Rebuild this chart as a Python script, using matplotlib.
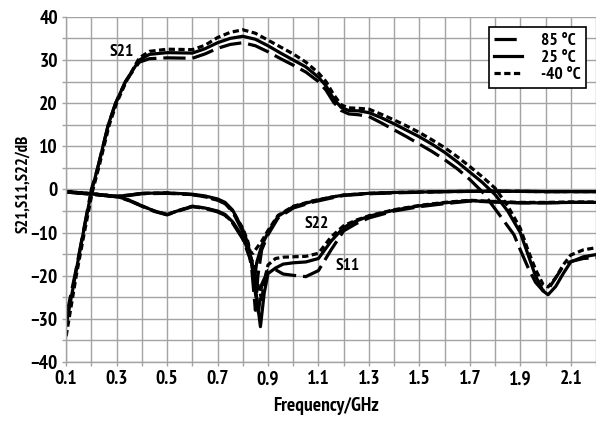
import matplotlib
matplotlib.use("Agg")
import matplotlib.pyplot as plt
from matplotlib import font_manager as fm
from matplotlib.ticker import MultipleLocator

# ---- font choice: prefer a condensed bold sans ----
names = {f.name for f in fm.fontManager.ttflist}
cands = ["PT Sans Narrow", "Fira Sans Extra Condensed", "Fira Sans Condensed", "Roboto Condensed",
         "Liberation Sans Narrow"]
FAM = next((c for c in cands if c in names), "DejaVu Sans")
plt.rcParams["font.family"] = [FAM, "DejaVu Sans"]
plt.rcParams["font.weight"] = "bold"
plt.rcParams["lines.scale_dashes"] = False

# ---- data ----
temps = ["85 °C", "25 °C", "-40 °C"]

s21_f_85 = [0.1, 0.136, 0.168, 0.2, 0.225, 0.246, 0.267, 0.296, 0.335, 0.39, 0.43, 0.5, 0.6, 0.65, 0.7, 0.75, 0.8,
            0.85, 0.9, 0.95, 1.0, 1.05, 1.1, 1.13, 1.16, 1.19, 1.22, 1.26, 1.3, 1.35, 1.4, 1.45, 1.5, 1.55, 1.6, 1.65,
            1.7, 1.75, 1.8, 1.85, 1.875, 1.9, 1.93, 1.96, 1.99, 2.01, 2.04, 2.07, 2.1, 2.15, 2.2]
s21_v_85 = [-29.5, -19.5, -9.8, 0, 5, 10, 15, 20, 25, 29.5, 30.3, 30.5, 30.4, 31.4, 32.7, 33.6, 34.0,
            33.3, 31.9, 30.3, 28.8, 27.2, 25.0, 23.0, 20.2, 18.3, 17.5, 17.3, 16.9, 15.4, 13.8, 12.2, 10.5, 8.8, 6.9, 4.8,
            2.3, -0.6, -4.5, -8.5, -10.5, -14.0, -18.0, -21.5, -23.5, -23.2, -20.5, -17.8, -16.7, -16.0, -15.8]

s21_f_25 = [0.1, 0.136, 0.168, 0.2, 0.225, 0.246, 0.267, 0.296, 0.335, 0.39, 0.43, 0.5, 0.6, 0.65, 0.7, 0.75, 0.8,
            0.85, 0.9, 0.95, 1.0, 1.05, 1.1, 1.13, 1.16, 1.19, 1.22, 1.26, 1.3, 1.35, 1.4, 1.45, 1.5, 1.55, 1.6, 1.65,
            1.7, 1.75, 1.8, 1.85, 1.9, 1.93, 1.96, 1.99, 2.01, 2.04, 2.07, 2.1, 2.15, 2.2]
s21_v_25 = [-31.5, -20, -10, -0.5, 5, 10, 15, 20, 25, 30, 31.3, 31.7, 31.6, 32.6, 34.0, 35.0, 35.5,
            34.8, 33.3, 31.6, 30.0, 28.4, 26.0, 24.0, 21.0, 19.0, 18.3, 18.2, 17.8, 16.6, 15.2, 13.7, 12.2, 10.5, 8.6, 6.4,
            4.0, 1.6, -1.2, -5.0, -10.0, -15.0, -20.0, -23.5, -24.4, -22.5, -19.5, -16.8, -15.6, -15.1]

s21_f_m40 = [0.1, 0.14, 0.172, 0.204, 0.229, 0.25, 0.271, 0.3, 0.338, 0.39, 0.43, 0.5, 0.6, 0.65, 0.7, 0.75, 0.8,
             0.85, 0.9, 0.95, 1.0, 1.05, 1.1, 1.13, 1.16, 1.19, 1.22, 1.26, 1.3, 1.35, 1.4, 1.45, 1.5, 1.55, 1.6, 1.65,
             1.7, 1.75, 1.8, 1.85, 1.9, 1.93, 1.96, 1.99, 2.01, 2.04, 2.07, 2.1, 2.15, 2.2]
s21_v_m40 = [-34.0, -20, -10, -0.5, 5, 10, 15, 20, 25, 30.5, 32.0, 32.5, 32.4, 33.4, 35.2, 36.4, 37.0,
             36.2, 34.6, 33.0, 31.4, 29.5, 27.0, 25.0, 22.0, 19.6, 18.9, 18.8, 18.6, 17.4, 16.1, 14.7, 13.2, 11.5, 9.7, 7.6,
             5.3, 2.9, 0.3, -3.8, -9.0, -14.0, -18.5, -22.0, -22.6, -20.5, -17.5, -15.2, -14.0, -13.5]

s22_f_85 = [0.1, 0.2, 0.3, 0.35, 0.4, 0.5, 0.6, 0.65, 0.7, 0.73, 0.76, 0.8, 0.82, 0.835, 0.85, 0.86, 0.875, 0.9,
            0.94, 1.0, 1.08, 1.15, 1.2, 1.3, 1.4, 1.6, 1.8, 2.0, 2.2]
s22_v_85 = [-0.6, -1.1, -1.7, -1.4, -1.0, -0.9, -1.2, -1.7, -2.5, -3.3, -5.2, -9.8, -13.5, -18.0, -28.0, -20.0, -14.0, -10.5,
            -6.6, -4.3, -2.9, -2.0, -1.4, -1.0, -0.8, -0.5, -0.4, -0.5, -0.5]

s22_f_25 = [0.1, 0.2, 0.3, 0.35, 0.4, 0.5, 0.6, 0.65, 0.7, 0.73, 0.76, 0.8, 0.82, 0.835, 0.845, 0.855, 0.875, 0.9,
            0.94, 1.0, 1.08, 1.15, 1.2, 1.3, 1.4, 1.6, 1.8, 2.0, 2.2]
s22_v_25 = [-0.5, -1.0, -1.6, -1.3, -0.9, -0.8, -1.1, -1.5, -2.2, -3.0, -4.8, -9.3, -12.5, -16.5, -21.5, -17.0, -13.0, -10.0,
            -6.2, -4.0, -2.7, -1.8, -1.3, -0.9, -0.7, -0.5, -0.4, -0.5, -0.5]

s22_f_m40 = [0.1, 0.2, 0.3, 0.35, 0.4, 0.5, 0.6, 0.65, 0.7, 0.73, 0.76, 0.8, 0.82, 0.83, 0.84, 0.85, 0.875, 0.9,
             0.94, 1.0, 1.08, 1.15, 1.2, 1.3, 1.4, 1.6, 1.8, 2.0, 2.2]
s22_v_m40 = [-0.5, -1.0, -1.6, -1.3, -0.9, -0.8, -1.2, -1.7, -2.4, -3.2, -5.0, -9.0, -12.0, -14.5, -14.8, -14.0, -12.0, -9.5,
             -6.0, -3.9, -2.6, -1.8, -1.3, -0.9, -0.7, -0.5, -0.4, -0.5, -0.5]

s11_f_85 = [0.1, 0.2, 0.3, 0.35, 0.4, 0.45, 0.5, 0.55, 0.6, 0.65, 0.7, 0.73, 0.76, 0.8, 0.835, 0.85, 0.862, 0.875, 0.9,
            0.93, 0.96, 1.0, 1.05, 1.1, 1.15, 1.2, 1.25, 1.3, 1.4, 1.5, 1.6, 1.7, 1.8, 1.9, 2.0, 2.1, 2.2]
s11_v_85 = [-0.6, -1.1, -1.7, -2.6, -3.9, -5.1, -5.9, -4.9, -4.0, -4.4, -5.2, -6.0, -7.8, -11.5, -17.0, -24.0, -28.5, -22.0, -18.8,
            -18.6, -19.6, -19.9, -20.2, -18.8, -14.0, -9.6, -7.9, -6.6, -5.0, -4.0, -3.3, -2.7, -2.9, -3.1, -3.1, -3.0, -3.0]

s11_f_25 = [0.1, 0.2, 0.3, 0.35, 0.4, 0.45, 0.5, 0.55, 0.6, 0.65, 0.7, 0.73, 0.76, 0.8, 0.835, 0.855, 0.87, 0.885, 0.9,
            0.93, 0.96, 1.0, 1.05, 1.1, 1.15, 1.2, 1.25, 1.3, 1.4, 1.5, 1.6, 1.7, 1.8, 1.9, 2.0, 2.1, 2.2]
s11_v_25 = [-0.5, -1.0, -1.6, -2.5, -3.8, -5.0, -5.8, -4.8, -3.9, -4.3, -5.0, -5.8, -7.5, -11.0, -16.3, -25.0, -31.8, -24.0, -19.5,
            -18.2, -17.3, -17.0, -16.8, -16.0, -12.0, -8.8, -7.3, -6.2, -4.8, -3.8, -3.1, -2.6, -2.9, -3.1, -3.1, -3.0, -3.0]

s11_f_m40 = [0.1, 0.2, 0.3, 0.35, 0.4, 0.45, 0.5, 0.55, 0.6, 0.65, 0.7, 0.73, 0.76, 0.8, 0.84, 0.86, 0.875, 0.89, 0.9,
             0.93, 0.96, 1.0, 1.05, 1.1, 1.15, 1.2, 1.25, 1.3, 1.4, 1.5, 1.6, 1.7, 1.8, 1.9, 2.0, 2.1, 2.2]
s11_v_m40 = [-0.5, -1.0, -1.6, -2.5, -3.8, -5.0, -5.8, -4.8, -3.9, -4.3, -5.1, -5.9, -7.7, -11.2, -17.0, -22.0, -25.5, -20.0, -17.5,
             -16.0, -15.7, -15.6, -15.5, -14.8, -11.0, -8.4, -7.1, -6.1, -4.7, -3.7, -3.0, -2.5, -2.8, -3.0, -3.0, -2.9, -2.9]

x_ticks = [0.1, 0.3, 0.5, 0.7, 0.9, 1.1, 1.3, 1.5, 1.7, 1.9, 2.1]
y_ticks = [-40, -30, -20, -10, 0, 10, 20, 30, 40]

# ---- styles ----
LW = 2.3
styles = {
    "85 °C": dict(linestyle=(0, (16, 5))),
    "25 °C": dict(linestyle="-"),
    "-40 °C": dict(linestyle=(0, (4.5, 2.5))),
}

fig = plt.figure(figsize=(5.96, 4.21), dpi=100)
ax = fig.add_axes([0.111, 0.140, 0.889, 0.820])

series = [
    ("85 °C", [(s21_f_85, s21_v_85), (s22_f_85, s22_v_85), (s11_f_85, s11_v_85)]),
    ("25 °C", [(s21_f_25, s21_v_25), (s22_f_25, s22_v_25), (s11_f_25, s11_v_25)]),
    ("-40 °C", [(s21_f_m40, s21_v_m40), (s22_f_m40, s22_v_m40), (s11_f_m40, s11_v_m40)]),
]
handles = []
for lab, curves in series:
    for i, (f, v) in enumerate(curves):
        ln, = ax.plot(f, v, color="black", lw=LW, solid_joinstyle="round",
                      dash_joinstyle="round", label=lab if i == 0 else None, **styles[lab])
        if i == 0:
            handles.append(ln)

ax.set_xlim(0.1, 2.2)
ax.set_ylim(-40, 40)
ax.set_xticks(x_ticks)
ax.set_yticks(y_ticks)
ax.xaxis.set_minor_locator(MultipleLocator(0.1))
ax.yaxis.set_minor_locator(MultipleLocator(5))
ax.grid(True, which="both", color="#a3a3a3", lw=1.0)
ax.set_axisbelow(True)
for s in ["top", "right"]:
    ax.spines[s].set_visible(False)
for s in ["left", "bottom"]:
    ax.spines[s].set_color("#a3a3a3")
    ax.spines[s].set_linewidth(1.0)
ax.tick_params(which="both", direction="out", color="#a3a3a3", length=3, width=1.0)
ax.tick_params(which="major", labelsize=14, pad=3)
for t in ax.get_xticklabels() + ax.get_yticklabels():
    t.set_fontweight("bold")

ax.set_xlabel("Frequency/GHz", fontsize=14, fontweight="bold")
ax.set_ylabel("S21,S11,S22/dB", fontsize=12, fontweight="bold")
ax.xaxis.set_label_coords(0.49, -0.10)
ax.yaxis.set_label_coords(-0.081, 0.517)
ax.yaxis.label.set_va("center")

ax.text(0.322, 31.9, "S21", fontsize=12.5, fontweight="bold", ha="center", va="center")
ax.text(1.092, -7.9, "S22", fontsize=12.5, fontweight="bold", ha="center", va="center")
ax.text(1.217, -17.7, "S11", fontsize=12.5, fontweight="bold", ha="center", va="center")

leg = ax.legend(handles=handles, loc="upper right", fontsize=12.5, frameon=True, fancybox=False,
                edgecolor="black", framealpha=1, handlelength=1.6, handletextpad=1.1,
                borderaxespad=0.6, labelspacing=0.05, borderpad=0.3)
leg.get_frame().set_linewidth(1.2)
for t in leg.get_texts():
    t.set_fontweight("bold")

fig.savefig("out.png", dpi=100)
